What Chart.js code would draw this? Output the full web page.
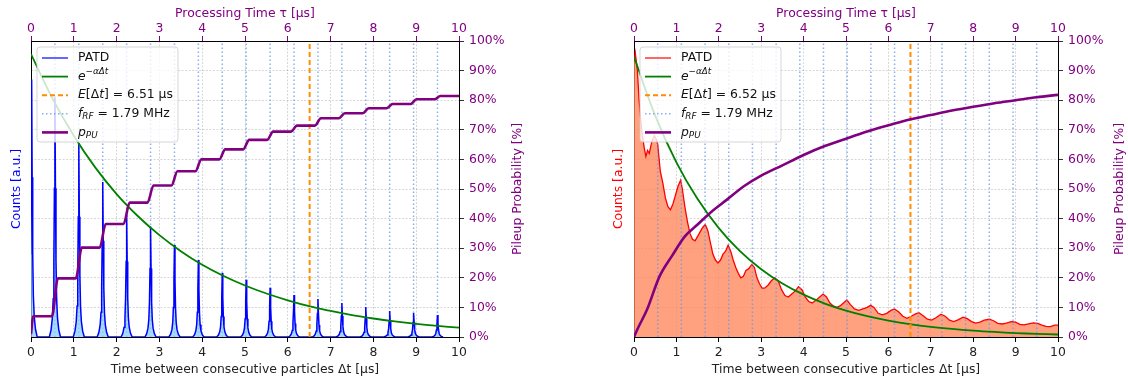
<!DOCTYPE html>
<html>
<head>
<meta charset="utf-8">
<script src="https://cdn.jsdelivr.net/npm/chart.js@4.4.1/dist/chart.umd.min.js"></script>
<style>
    html, body { margin: 0; padding: 0; background: #fff; }
    #wrap { position: relative; width: 1128px; height: 381px; overflow: hidden; }
    .panel { position: absolute; top: 0; width: 564px; height: 381px; }
    #leftPanel { left: 0; }
    #rightPanel { left: 564px; }
</style>
</head>
<body>
<div id="wrap">
    <div class="panel" id="leftPanel"><canvas id="leftChart" width="564" height="381"></canvas></div>
    <div class="panel" id="rightPanel"><canvas id="rightChart" width="564" height="381"></canvas></div>
</div>
<script>
// Axis ticks
const timeTicks = [0, 1, 2, 3, 4, 5, 6, 7, 8, 9, 10];
const pctTicks = [0, 10, 20, 30, 40, 50, 60, 70, 80, 90, 100];

// RF bunch spacing (f_RF = 1.79 MHz), µs
const rfTimes = [0.559, 1.117, 1.676, 2.235, 2.793, 3.352, 3.911, 4.469, 5.028,
    5.587, 6.145, 6.704, 7.263, 7.821, 8.380, 8.939, 9.497];

// Left panel: bunched beam
const leftPeakTimes = [0.015, 0.559, 1.117, 1.676, 2.235, 2.793, 3.352, 3.911, 4.469,
    5.028, 5.587, 6.145, 6.704, 7.263, 7.821, 8.380, 8.939, 9.497];
const leftPeakHeights = [0.87, 0.81, 0.655, 0.524, 0.412, 0.373, 0.311, 0.26, 0.216,
    0.193, 0.166, 0.142, 0.128, 0.115, 0.101, 0.088, 0.081, 0.074];
// shape of one bunch peak (offset in µs, fraction of height)
const peakOffsets = [-0.13, -0.09, -0.06, -0.04, -0.025, -0.012, 0, 0.012, 0.025, 0.04, 0.06, 0.09, 0.13];
const peakFractions = [0, 0.03, 0.08, 0.16, 0.32, 0.62, 1, 0.62, 0.32, 0.16, 0.08, 0.03, 0];

const expTimes = [0, 0.5, 1, 1.5, 2, 2.5, 3, 3.5, 4, 4.5, 5, 5.5, 6, 6.5, 7, 7.5, 8, 8.5, 9, 9.5, 10];
const leftExp = [0.956, 0.806, 0.680, 0.573, 0.483, 0.408, 0.344, 0.290, 0.244, 0.206, 0.174,
    0.147, 0.124, 0.104, 0.088, 0.074, 0.0625, 0.0527, 0.0444, 0.0375, 0.0316];
const leftMean = 6.51;

const leftPpuStart = 7;
const leftPpuLevels = [19.8, 30.2, 38.2, 45.4, 51.2, 56.0, 60.0, 63.4, 66.6, 69.4, 71.4,
    73.9, 75.6, 77.3, 78.7, 80.3, 81.4];

// Right panel: continuous beam
const rightPatdTimes = [0.00, 0.03, 0.08, 0.12, 0.18, 0.24, 0.28, 0.32, 0.36, 0.42, 0.48, 0.52,
    0.56, 0.62, 0.68, 0.74, 0.80, 0.86, 0.92, 0.98, 1.04, 1.10, 1.14, 1.20, 1.26, 1.32, 1.38,
    1.44, 1.50, 1.56, 1.62, 1.68, 1.74, 1.80, 1.86, 1.92, 1.98, 2.04, 2.10, 2.16, 2.22, 2.28,
    2.34, 2.40, 2.46, 2.52, 2.58, 2.64, 2.70, 2.78, 2.84, 2.90, 2.96, 3.02, 3.08, 3.16, 3.24,
    3.32, 3.40, 3.48, 3.56, 3.64, 3.72, 3.80, 3.88, 3.96, 4.04, 4.12, 4.20, 4.30, 4.38, 4.46,
    4.54, 4.62, 4.70, 4.78, 4.86, 4.94, 5.02, 5.10, 5.20, 5.30, 5.40, 5.50, 5.58, 5.66, 5.76,
    5.86, 5.96, 6.06, 6.14, 6.24, 6.34, 6.44, 6.54, 6.64, 6.72, 6.82, 6.92, 7.02, 7.12, 7.24,
    7.34, 7.44, 7.54, 7.64, 7.76, 7.86, 7.96, 8.06, 8.16, 8.26, 8.38, 8.48, 8.58, 8.68, 8.78,
    8.90, 9.00, 9.10, 9.20, 9.30, 9.42, 9.52, 9.62, 9.72, 9.82, 9.92, 10.0];
const rightPatdCounts = [0.93, 0.96, 0.90, 0.80, 0.70, 0.64, 0.61, 0.63, 0.62, 0.66, 0.68, 0.67,
    0.65, 0.56, 0.52, 0.47, 0.44, 0.43, 0.45, 0.48, 0.51, 0.53, 0.50, 0.44, 0.39, 0.35, 0.33,
    0.325, 0.34, 0.355, 0.37, 0.38, 0.36, 0.32, 0.28, 0.26, 0.25, 0.26, 0.28, 0.29, 0.31, 0.29,
    0.26, 0.235, 0.215, 0.20, 0.205, 0.225, 0.23, 0.245, 0.235, 0.20, 0.18, 0.165, 0.165, 0.175, 0.19,
    0.20, 0.19, 0.16, 0.14, 0.135, 0.145, 0.155, 0.17, 0.16, 0.135, 0.12, 0.115, 0.125, 0.135, 0.145,
    0.135, 0.115, 0.105, 0.10, 0.105, 0.115, 0.125, 0.11, 0.095, 0.09, 0.095, 0.10, 0.107, 0.10, 0.08,
    0.075, 0.08, 0.09, 0.095, 0.085, 0.07, 0.063, 0.07, 0.078, 0.082, 0.072, 0.06, 0.057, 0.065, 0.077,
    0.07, 0.057, 0.052, 0.058, 0.067, 0.062, 0.052, 0.047, 0.05, 0.057, 0.06, 0.055, 0.046, 0.044, 0.047,
    0.052, 0.05, 0.043, 0.041, 0.044, 0.048, 0.046, 0.04, 0.036, 0.035, 0.04, 0.04];

const rightExp = [0.947, 0.748, 0.590, 0.466, 0.368, 0.290, 0.229, 0.181, 0.143, 0.113, 0.0889,
    0.0702, 0.0554, 0.0438, 0.0345, 0.0273, 0.0215, 0.0170, 0.0134, 0.0106, 0.0084];
const rightMean = 6.52;

const rightPpuTimes = [0, 0.1, 0.3, 0.6, 0.9, 1.2, 1.5, 1.8, 2.2, 2.6, 3.0, 3.5, 4.0, 4.5, 5.0,
    5.5, 6.0, 6.5, 7.0, 7.5, 8.0, 8.5, 9.0, 9.5, 10];
const rightPpu = [0, 3.2, 9, 20.4, 27.5, 34, 38, 42, 46.5, 51, 54.5, 58, 61.5, 64.5, 67,
    69.4, 71.5, 73.5, 75, 76.5, 77.8, 79, 80, 81, 81.8];

// Colours
const PURPLE = '#800080';
const GRID = 'rgba(0, 0, 0, 0.2)';
const RF_COLOR = 'rgba(100, 149, 237, 0.75)';
const FONT = "'DejaVu Sans', sans-serif";
const FONT_SIZE = 12.4;

Chart.defaults.font.family = FONT;
Chart.defaults.font.size = FONT_SIZE;
Chart.defaults.color = '#222';

// Build datasets from the arrays above
function buildPeaks(times, heights) {
    const pts = [];
    times.forEach((t, i) => {
        peakOffsets.forEach((dt, j) => pts.push({ x: t + dt, y: heights[i] * peakFractions[j] }));
    });
    return pts;
}

function buildSteps(start, times, levels) {
    const pts = [{ x: 0, y: 1 }, { x: 0.05, y: start }];
    let prev = start;
    times.forEach((t, i) => {
        pts.push({ x: t - 0.07, y: prev });
        pts.push({ x: t + 0.07, y: levels[i] });
        prev = levels[i];
    });
    pts.push({ x: 10, y: prev });
    return pts;
}

function zip(xs, ys) {
    return xs.map((x, i) => ({ x: x, y: ys[i] }));
}

function buildVLines(times) {
    const pts = [];
    times.forEach(t => {
        pts.push({ x: t, y: 0 }, { x: t, y: 1 }, { x: t, y: null });
    });
    return pts;
}

// Rich text (italic, super/subscripts) for the legend
function drawRich(ctx, x, y, parts) {
    parts.forEach(([text, flags]) => {
        const small = flags.includes('u') || flags.includes('d');
        const size = small ? 8.8 : FONT_SIZE;
        ctx.font = (flags.includes('i') ? 'italic ' : '') + size + 'px ' + FONT;
        const dy = flags.includes('u') ? -5 : flags.includes('d') ? 3 : 0;
        ctx.fillText(text, x, y + dy);
        x += ctx.measureText(text).width;
    });
}

const mathLegend = {
    id: 'mathLegend',
    afterDraw(chart, args, opts) {
        const ctx = chart.ctx;
        const area = chart.chartArea;
        const x0 = area.left + 6;
        const y0 = area.top + 6;
        const w = 141, h = 95, r = 3;

        ctx.save();
        ctx.beginPath();
        ctx.roundRect(x0, y0, w, h, r);
        ctx.fillStyle = 'rgba(255, 255, 255, 0.8)';
        ctx.fill();
        ctx.lineWidth = 1;
        ctx.strokeStyle = 'rgba(204, 204, 204, 0.8)';
        ctx.stroke();

        ctx.textBaseline = 'middle';
        ctx.textAlign = 'left';
        opts.items.forEach((item, i) => {
            const cy = y0 + 11 + i * 18.6;
            ctx.beginPath();
            ctx.setLineDash(item.dash || []);
            ctx.lineWidth = item.width;
            ctx.strokeStyle = item.color;
            ctx.moveTo(x0 + 5, cy);
            ctx.lineTo(x0 + 31, cy);
            ctx.stroke();
            ctx.setLineDash([]);
            ctx.fillStyle = '#111';
            drawRich(ctx, x0 + 41, cy, item.text);
        });

        // right axis title, reading bottom to top
        ctx.translate(opts.y2TitleX, (area.top + area.bottom) / 2);
        ctx.rotate(-Math.PI / 2);
        ctx.font = FONT_SIZE + 'px ' + FONT;
        ctx.fillStyle = PURPLE;
        ctx.textAlign = 'center';
        ctx.fillText('Pileup Probability [%]', 0, 0);
        ctx.restore();
    }
};

function makeScales(cfg) {
    return {
        x: {
            type: 'linear', position: 'bottom', min: 0, max: 10,
            afterBuildTicks: s => { s.ticks = timeTicks.map(v => ({ value: v })); },
            afterFit: s => { s.height = 44; },
            ticks: { color: '#222', padding: 3, maxRotation: 0 },
            grid: { color: GRID, lineWidth: 0.8, tickColor: '#000', tickLength: 5, tickWidth: 1 },
            border: { color: '#000', width: 1, dash: [2, 1.5] },
            title: { display: true, text: 'Time between consecutive particles Δt [µs]',
                color: '#222', padding: { bottom: 4 } }
        },
        x2: {
            type: 'linear', position: 'top', min: 0, max: 10,
            afterBuildTicks: s => { s.ticks = timeTicks.map(v => ({ value: v })); },
            afterFit: s => { s.height = 41; },
            ticks: { color: PURPLE, padding: 0, maxRotation: 0 },
            grid: { drawOnChartArea: false, tickColor: PURPLE, tickLength: 5 },
            border: { color: '#000', width: 1 },
            title: { display: true, text: 'Processing Time τ [µs]', color: PURPLE, padding: { top: 6 } }
        },
        y: {
            type: 'linear', position: 'left', min: 0, max: 1,
            afterFit: s => { s.width = cfg.leftWidth; },
            ticks: { display: false },
            grid: { display: false },
            border: { color: '#000', width: 1 },
            title: { display: true, text: 'Counts [a.u.]', color: cfg.countColor,
                padding: { top: cfg.countPad } }
        },
        y2: {
            type: 'linear', position: 'right', min: 0, max: 100,
            afterBuildTicks: s => { s.ticks = pctTicks.map(v => ({ value: v })); },
            afterFit: s => { s.width = cfg.rightWidth; },
            ticks: { color: PURPLE, padding: 5, callback: v => v + '%' },
            grid: { color: GRID, lineWidth: 0.8, tickColor: '#000', tickLength: 5 },
            border: { color: '#000', width: 1, dash: [2, 1.5] }
        }
    };
}

function legendItems(patdColor, mean) {
    return [
        { color: patdColor, width: 1.2, text: [['PATD', '']] },
        { color: 'green', width: 1.8, text: [['e', 'i'], ['−αΔt', 'iu']] },
        { color: 'darkorange', width: 2, dash: [5, 3], text: [['E', 'i'], ['[Δ', ''], ['t', 'i'], ['] = ' + mean + ' µs', '']] },
        { color: RF_COLOR, width: 1.5, dash: [1.5, 2.5], text: [['f', 'i'], ['RF', 'id'], [' = 1.79 MHz', '']] },
        { color: PURPLE, width: 2.6, text: [['p', 'i'], ['PU', 'id']] }
    ];
}

function baseOptions(cfg) {
    return {
        responsive: false,
        animation: false,
        events: [],
        layout: { padding: 0 },
        scales: makeScales(cfg),
        plugins: {
            legend: { display: false },
            tooltip: { enabled: false },
            mathLegend: { items: cfg.items, y2TitleX: cfg.y2TitleX }
        }
    };
}

const rfDataset = order => ({
    data: buildVLines(rfTimes), borderColor: RF_COLOR, borderWidth: 1.5, borderDash: [1.5, 2.5],
    pointRadius: 0, spanGaps: false, yAxisID: 'y', order: order
});

const expDataset = (values) => ({
    data: zip(expTimes, values), borderColor: 'green', borderWidth: 1.8, pointRadius: 0,
    tension: 0.4, yAxisID: 'y', order: 3
});

const meanDataset = mean => ({
    data: [{ x: mean, y: 0 }, { x: mean, y: 1 }], borderColor: 'darkorange', borderWidth: 2,
    borderDash: [5, 3], pointRadius: 0, yAxisID: 'y', order: 2
});

// Left chart
new Chart(document.getElementById('leftChart'), {
    type: 'line',
    data: {
        datasets: [
            rfDataset(6),
            {
                data: buildPeaks(leftPeakTimes, leftPeakHeights), borderColor: 'blue', borderWidth: 1.5,
                backgroundColor: 'rgba(135, 206, 250, 0.75)', fill: 'origin', pointRadius: 0,
                yAxisID: 'y', order: 4
            },
            expDataset(leftExp),
            meanDataset(leftMean),
            {
                data: buildSteps(leftPpuStart, rfTimes, leftPpuLevels), borderColor: PURPLE, borderWidth: 2.6,
                pointRadius: 0, cubicInterpolationMode: 'monotone', yAxisID: 'y2', order: 1
            }
        ]
    },
    options: baseOptions({ leftWidth: 31, rightWidth: 105, countColor: 'blue', countPad: 9,
        items: legendItems('blue', leftMean), y2TitleX: 518 }),
    plugins: [mathLegend]
});

// Right chart
new Chart(document.getElementById('rightChart'), {
    type: 'line',
    data: {
        datasets: [
            {
                data: zip(rightPatdTimes, rightPatdCounts), borderColor: 'red', borderWidth: 1.3,
                backgroundColor: 'rgba(255, 135, 90, 0.78)', fill: 'origin', pointRadius: 0,
                yAxisID: 'y', order: 6
            },
            rfDataset(5),
            expDataset(rightExp),
            meanDataset(rightMean),
            {
                data: zip(rightPpuTimes, rightPpu), borderColor: PURPLE, borderWidth: 2.6,
                pointRadius: 0, cubicInterpolationMode: 'monotone', yAxisID: 'y2', order: 1
            }
        ]
    },
    options: baseOptions({ leftWidth: 70, rightWidth: 70, countColor: 'red', countPad: 47,
        items: legendItems('red', rightMean), y2TitleX: 556 }),
    plugins: [mathLegend]
});
</script>
</body>
</html>
